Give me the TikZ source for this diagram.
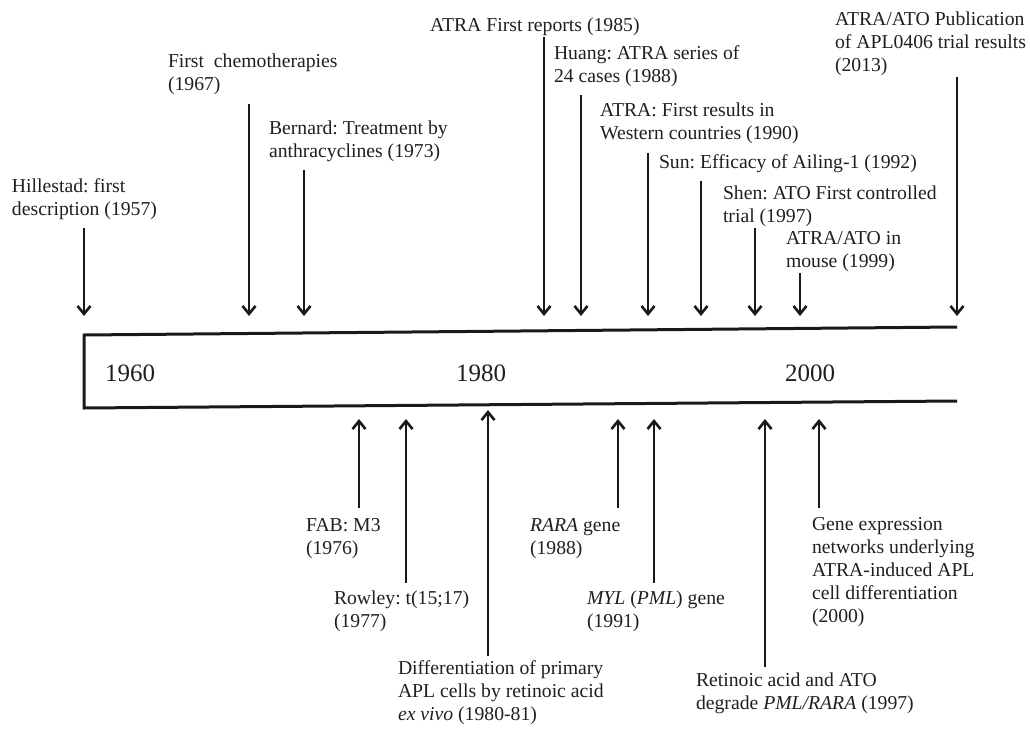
\documentclass[tikz,border=0pt]{standalone}
\usepackage{fontspec}
\setmainfont{Liberation Serif}
\usetikzlibrary{arrows.meta}
\frenchspacing
\begin{document}
\begin{tikzpicture}[x=1pt,y=-1pt,
  lbl/.style={anchor=north west,inner sep=0pt,outer sep=0pt,align=left,text=black!88,
    font=\fontsize{19.7}{23}\selectfont\frenchspacing,execute at begin node=\strut},
  yr/.style={inner sep=0pt,text=black!88,font=\fontsize{25}{30}\selectfont},
  arr/.style={line width=2.6pt,black!90,-{Straight Barb[length=8pt,width=13pt]}},
  barline/.style={line width=3pt,black!90,line join=miter}]
\useasboundingbox (0,0) rectangle (1030,730);

% timeline bar
\coordinate (tr) at (957,327);
\coordinate (tl) at (84,335);
\coordinate (bl) at (84,408);
\coordinate (br) at (957,401);
\draw[barline] (tr) -- (tl) -- (bl) -- (br);

\node[yr] (y1960) at (130,373) {1960};
\node[yr] (y1980) at (481,373) {1980};
\node[yr] (y2000) at (810,373) {2000};

% top labels (y = baseline - 16)
\node[lbl] (hil) at (12,179) {Hillestad: first\\description (1957)};
\node[lbl] (che) at (168,54) {First~ chemotherapies\\(1967)};
\node[lbl] (ber) at (269,121) {Bernard: Treatment by\\anthracyclines (1973)};
\node[lbl] (atr) at (430,15) {ATRA First reports (1985)};
\node[lbl] (hua) at (554,46) {Huang: ATRA series of\\24 cases (1988)};
\node[lbl] (wes) at (600,103) {ATRA: First results in\\Western countries (1990)};
\node[lbl] (sun) at (659,152) {Sun: Efficacy of Ailing-1 (1992)};
\node[lbl] (she) at (723,186) {Shen: ATO First controlled\\trial (1997)};
\node[lbl] (mou) at (786,231) {ATRA/ATO in\\mouse (1999)};
\node[lbl] (pub) at (835,12) {ATRA/ATO Publication\\of APL0406 trial results\\(2013)};

% top arrows
\coordinate (hilS) at (84,228);  \coordinate (hilE) at (84,316);
\coordinate (cheS) at (249,104); \coordinate (cheE) at (249,316);
\coordinate (berS) at (304,170); \coordinate (berE) at (304,316);
\coordinate (atrS) at (544,37);  \coordinate (atrE) at (544,316);
\coordinate (huaS) at (581,95);  \coordinate (huaE) at (581,316);
\coordinate (wesS) at (648,153); \coordinate (wesE) at (648,316);
\coordinate (sunS) at (701,181); \coordinate (sunE) at (701,316);
\coordinate (sheS) at (755,228); \coordinate (sheE) at (755,316);
\coordinate (mouS) at (800,273); \coordinate (mouE) at (800,316);
\coordinate (pubS) at (957,77);  \coordinate (pubE) at (957,316);
\foreach \n in {hil,che,ber,atr,hua,wes,sun,she,mou,pub}
  \draw[arr] (\n S) -- (\n E);

% bottom labels
\node[lbl] (fab) at (306,518) {FAB: M3\\(1976)};
\node[lbl] (row) at (334,591) {Rowley: t(15;17)\\(1977)};
\node[lbl] (dif) at (398,661) {Differentiation of primary\\APL cells by retinoic acid\\\textit{ex vivo} (1980-81)};
\node[lbl] (rar) at (530,518) {\textit{RARA} gene\\(1988)};
\node[lbl] (myl) at (587,591) {\textit{MYL} (\textit{PML}) gene\\(1991)};
\node[lbl] (ret) at (696,673) {Retinoic acid and ATO\\degrade \textit{PML/RARA} (1997)};
\node[lbl] (gen) at (812,517) {Gene expression\\networks underlying\\ATRA-induced APL\\cell differentiation\\(2000)};

% bottom arrows
\coordinate (fabS) at (359,508); \coordinate (fabE) at (359,419);
\coordinate (rowS) at (406,583); \coordinate (rowE) at (406,419);
\coordinate (difS) at (488,656); \coordinate (difE) at (488,410);
\coordinate (rarS) at (618,508); \coordinate (rarE) at (618,419);
\coordinate (mylS) at (654,583); \coordinate (mylE) at (654,419);
\coordinate (retS) at (765,667); \coordinate (retE) at (765,419);
\coordinate (genS) at (819,508); \coordinate (genE) at (819,419);
\foreach \n in {fab,row,dif,rar,myl,ret,gen}
  \draw[arr] (\n S) -- (\n E);
\end{tikzpicture}
\end{document}
